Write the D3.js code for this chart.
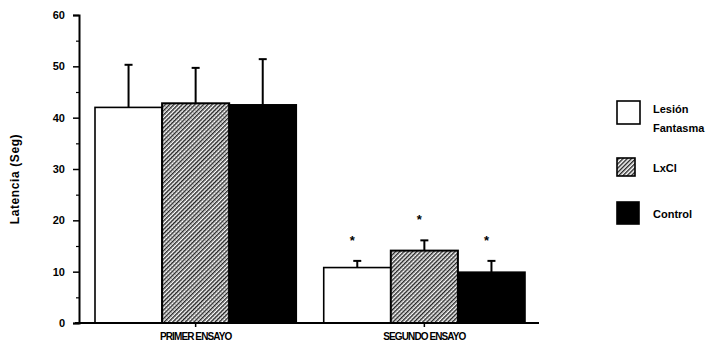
<!DOCTYPE html>
<html>
<head>
<meta charset="utf-8">
<script src="https://cdn.jsdelivr.net/npm/d3@7"></script>
<style>
  html, body { margin: 0; padding: 0; background: #fff; }
  svg { display: block; }
  text { font-family: "Liberation Sans", Arial, sans-serif; font-weight: bold; fill: #000; }
</style>
</head>
<body>
<svg id="chart" width="724" height="346"></svg>
<script>
// Latency (seconds) per trial and group
const groups = ["PRIMER ENSAYO", "SEGUNDO ENSAYO"];
const seriesNames = ["Lesión Fantasma", "LxCl", "Control"];
const means = [
  [42.0, 42.8, 42.5],
  [10.8, 14.1, 9.9]
];
const errors = [
  [8.3, 6.9, 8.9],
  [1.3, 2.0, 2.2]
];
const significant = [
  [false, false, false],
  [true, true, true]
];
const yTicks = [0, 10, 20, 30, 40, 50, 60];
const yMinorTicks = [5, 15, 25, 35, 45, 55];

const svg = d3.select("#chart");

// Fine diagonal hatch with a light dot grid for the LxCl series
const defs = svg.append("defs");
const pat = defs.append("pattern")
  .attr("id", "hatch")
  .attr("patternUnits", "userSpaceOnUse")
  .attr("width", 3).attr("height", 3)
  .attr("patternTransform", "rotate(45)");
pat.append("rect").attr("width", 3).attr("height", 3).attr("fill", "#fff");
pat.append("rect").attr("x", 0).attr("y", 0).attr("width", 1.4).attr("height", 3).attr("fill", "#222");
const pat2 = defs.append("pattern")
  .attr("id", "dots")
  .attr("patternUnits", "userSpaceOnUse")
  .attr("width", 2).attr("height", 2);
pat2.append("rect").attr("width", 1).attr("height", 1).attr("fill", "#555");

const fills = ["#fff", "url(#hatch)", "#000"];

const y = d3.scaleLinear().domain([0, 60]).range([323, 15]);
const x0 = d3.scaleBand().domain(groups).range([95, 525]).paddingInner(0.12).paddingOuter(0);
const x1 = d3.scaleBand().domain(seriesNames).range([0, x0.bandwidth()]).padding(0);

// Bars
const g = svg.append("g");
groups.forEach((grp, gi) => {
  const gg = g.append("g").attr("transform", `translate(${x0(grp)},0)`);
  seriesNames.forEach((s, si) => {
    const v = means[gi][si];
    const bx = x1(s);
    const cx = bx + x1.bandwidth() / 2;
    // error bar (upward only)
    const top = y(v + errors[gi][si]);
    gg.append("line")
      .attr("x1", cx).attr("x2", cx)
      .attr("y1", y(v)).attr("y2", top)
      .attr("stroke", "#000").attr("stroke-width", 2);
    gg.append("line")
      .attr("x1", cx - 4).attr("x2", cx + 4)
      .attr("y1", top).attr("y2", top)
      .attr("stroke", "#000").attr("stroke-width", 2);
    gg.append("rect")
      .attr("x", bx).attr("y", y(v))
      .attr("width", x1.bandwidth()).attr("height", y(0) - y(v))
      .attr("fill", fills[si])
      .attr("stroke", "#000").attr("stroke-width", si === 1 ? 2 : 1.6);
    if (si === 1) {
      gg.append("rect")
        .attr("x", bx + 1).attr("y", y(v) + 1)
        .attr("width", x1.bandwidth() - 2).attr("height", y(0) - y(v) - 2)
        .attr("fill", "url(#dots)").attr("opacity", 0.35);
    }
    if (significant[gi][si]) {
      gg.append("text")
        .attr("x", cx - 5).attr("y", top - 16)
        .attr("text-anchor", "middle")
        .attr("font-size", 13)
        .text("*");
    }
  });
});

// Y axis
const yAxis = d3.axisLeft(y).tickValues(yTicks).tickSize(6).tickPadding(8).tickFormat(d3.format("d"));
const ya = svg.append("g").attr("transform", "translate(79,0)").call(yAxis);
ya.select(".domain").attr("stroke-width", 2);
ya.selectAll(".tick line").attr("stroke-width", 1.5);
ya.selectAll(".tick text").attr("font-size", 11).attr("font-family", "Liberation Sans, Arial, sans-serif").attr("font-weight", "bold");
const yMinor = d3.axisLeft(y).tickValues(yMinorTicks).tickSize(3).tickFormat("");
const ym = svg.append("g").attr("transform", "translate(79,0)").call(yMinor);
ym.select(".domain").remove();
ym.selectAll(".tick line").attr("stroke-width", 1.2);

// X axis
const xAxis = d3.axisBottom(x0).tickSize(4).tickSizeOuter(0).tickPadding(6);
const xa = svg.append("g").attr("transform", "translate(0,323)").call(xAxis);
xa.select(".domain").remove();
xa.selectAll(".tick line").attr("stroke-width", 1.5);
xa.selectAll(".tick text")
  .attr("font-size", 10)
  .attr("letter-spacing", -0.9)
  .attr("font-family", "Liberation Sans, Arial, sans-serif")
  .attr("font-weight", "normal");
svg.append("line")
  .attr("x1", 75).attr("x2", 539)
  .attr("y1", y(0)).attr("y2", y(0))
  .attr("stroke", "#000").attr("stroke-width", 2.2);

// Y title
svg.append("text")
  .attr("transform", "translate(19,179) rotate(-90)")
  .attr("text-anchor", "middle")
  .attr("font-size", 12)
  .attr("letter-spacing", 0.6)
  .text("Latencia (Seg)");

// Legend
const legend = svg.append("g");
const legendItems = [
  { fill: fills[0], y: 101, size: 23, lines: ["Lesión", "Fantasma"] },
  { fill: fills[1], y: 158, size: 18, lines: ["LxCl"] },
  { fill: fills[2], y: 202, size: 22, lines: ["Control"] }
];
legendItems.forEach(it => {
  legend.append("rect")
    .attr("x", 617).attr("y", it.y)
    .attr("width", it.size).attr("height", it.size)
    .attr("fill", it.fill)
    .attr("stroke", "#000").attr("stroke-width", 1.6);
  it.lines.forEach((ln, i) => {
    legend.append("text")
      .attr("x", 653)
      .attr("y", it.y + (it.lines.length > 1 ? 12 : it.size / 2 + 5) + i * 19)
      .attr("font-size", 11)
      .text(ln);
  });
});
</script>
</body>
</html>
